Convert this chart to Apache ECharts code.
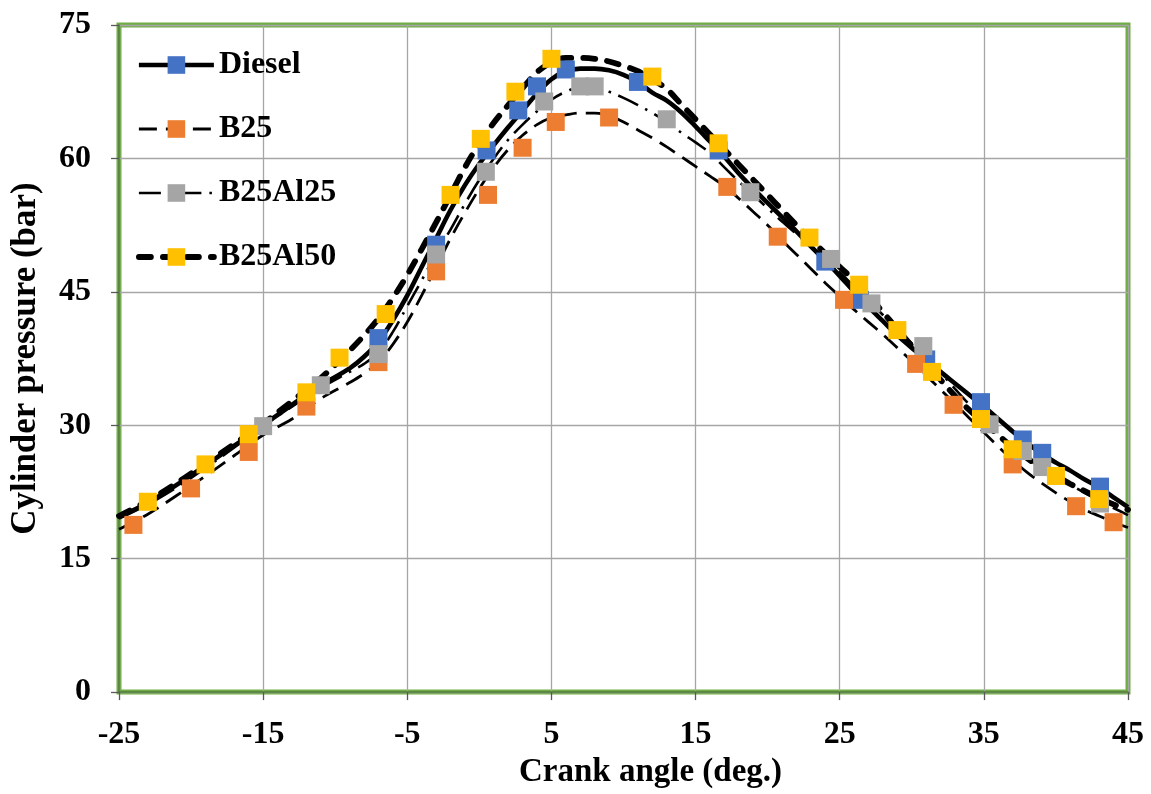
<!DOCTYPE html>
<html>
<head>
<meta charset="utf-8">
<script src="https://cdn.jsdelivr.net/npm/echarts@6/dist/echarts.min.js"></script>
<style>
  html, body { margin: 0; padding: 0; background: #ffffff; }
  #chart { width: 1151px; height: 794px; }
</style>
</head>
<body>
<div id="chart"></div>
<script>
// Crank angle (deg.) at which the smoothed pressure traces are sampled
const crankAngle = [
  -25, -23, -21, -19, -17, -15, -13, -11, -9,
  -8, -7, -6, -5, -4, -3, -2, -1, 0, 1, 2, 3, 4, 5, 6, 7, 8, 9, 10,
  11, 12, 13, 14, 15, 16, 17, 18, 19, 20, 21, 22, 23, 24, 25, 26, 27, 28,
  29, 30, 31, 32, 33, 34, 35, 36, 37, 38, 39, 40, 41, 42, 43, 44, 45
];

// Cylinder pressure traces (bar)
const dieselTrace = [
  19.7, 21.3, 23.3, 25.5, 27.7, 30.0, 32.3, 34.5, 36.4,
  37.7, 39.4, 41.8, 44.6, 47.8, 51.0, 54.2, 57.0, 59.4, 61.5, 63.5, 65.4, 67.3, 68.9, 69.8, 70.1, 70.1, 69.9, 69.4,
  68.6, 67.4, 66.5, 65.2, 63.6, 61.9, 60.2, 58.3, 56.6, 55.0, 53.4, 51.8, 50.1, 48.5, 46.8, 45.0, 43.3, 41.7,
  40.1, 38.7, 37.4, 36.0, 34.7, 33.4, 32.1, 30.7, 29.3, 28.0, 26.8, 25.8, 24.9, 23.9, 23.0, 21.9, 20.8
];
const b25Trace = [
  18.3, 20.0, 22.1, 24.3, 26.6, 28.9, 30.7, 33.0, 34.8,
  35.8, 37.1, 39.1, 41.6, 44.6, 47.8, 51.0, 53.9, 56.6, 59.0, 61.0, 62.6, 63.8, 64.6, 64.9, 65.1, 65.1, 64.8, 64.1,
  63.2, 62.3, 61.3, 60.2, 59.1, 58.0, 56.9, 55.5, 54.0, 52.5, 50.8, 49.2, 47.6, 46.0, 44.5, 43.0, 41.6, 40.2,
  38.7, 37.2, 35.6, 34.0, 32.4, 30.8, 29.2, 27.6, 26.1, 24.7, 23.5, 22.4, 21.4, 20.5, 19.8, 19.1, 18.5
];
const b25al25Trace = [
  19.5, 21.1, 23.0, 25.2, 27.5, 29.9, 32.1, 34.2, 36.0,
  36.9, 38.2, 40.5, 43.4, 46.3, 49.3, 52.0, 54.9, 57.6, 60.0, 62.1, 63.8, 65.3, 66.6, 67.5, 68.0, 68.0, 67.5, 66.8,
  66.0, 65.1, 64.1, 62.9, 61.8, 60.6, 59.0, 57.4, 55.9, 54.4, 52.9, 51.5, 50.1, 48.7, 47.2, 45.6, 44.0, 42.4,
  40.8, 39.2, 37.6, 35.9, 34.1, 32.3, 30.6, 29.0, 27.6, 26.3, 25.2, 24.2, 23.3, 22.4, 21.5, 20.7, 19.9
];
const b25al50Trace = [
  19.8, 21.5, 23.5, 25.7, 27.9, 30.2, 32.7, 35.3, 38.4,
  40.1, 42.0, 44.3, 46.9, 49.8, 52.8, 55.9, 59.0, 61.7, 64.0, 66.0, 67.9, 69.7, 70.8, 71.3, 71.3, 71.2, 70.9, 70.4,
  69.8, 68.9, 67.8, 66.1, 64.4, 62.7, 61.0, 59.3, 57.6, 55.9, 54.2, 52.5, 50.9, 49.3, 47.8, 46.3, 44.6, 42.7,
  40.8, 38.9, 37.0, 35.1, 33.3, 31.7, 30.3, 28.9, 27.5, 26.3, 25.2, 24.3, 23.4, 22.6, 21.8, 21.1, 20.5
];

// Measured points [crank angle, pressure]
const dieselPoints = [
  [-7.0, 39.8], [-3.0, 50.3], [0.5, 60.9], [2.7, 65.4], [4.0, 68.1], [6.0, 70.0],
  [11.0, 68.6], [16.6, 60.9], [24.0, 48.4], [26.4, 44.1], [31.0, 37.4], [34.8, 32.6],
  [37.7, 28.4], [39.05, 26.9], [43.06, 23.1]
];
const b25Points = [
  [-24.0, 18.8], [-20.0, 22.9], [-16.0, 27.0], [-12.0, 32.1], [-7.0, 37.1], [-3.0, 47.3],
  [0.6, 55.9], [3.0, 61.2], [5.3, 64.1], [9.0, 64.6], [17.2, 56.8], [20.7, 51.2],
  [25.3, 44.1], [30.3, 36.9], [32.9, 32.3], [37.0, 25.6], [41.4, 20.9], [44.0, 19.1]
];
const b25al25Points = [
  [-15.0, 29.9], [-11.0, 34.5], [-7.0, 38.0], [-3.0, 49.2], [0.45, 58.5], [4.5, 66.4],
  [7.0, 68.1], [8.0, 68.1], [13.0, 64.4], [18.8, 56.2], [24.4, 48.7], [27.2, 43.7],
  [30.8, 38.9], [35.4, 30.1], [37.7, 27.1], [39.05, 25.3], [43.06, 21.2]
];
const b25al50Points = [
  [-23.0, 21.4], [-19.0, 25.6], [-16.0, 29.0], [-12.0, 33.7], [-9.7, 37.6], [-6.5, 42.5],
  [-2.0, 55.9], [0.1, 62.2], [2.5, 67.5], [5.0, 71.2], [12.0, 69.2], [16.6, 61.7],
  [22.9, 51.1], [26.35, 45.8], [29.0, 40.7], [31.4, 36.0], [34.8, 30.7], [37.0, 27.3],
  [40.0, 24.3], [43.0, 21.7]
];

const seriesNames = ['Diesel', 'B25', 'B25Al25', 'B25Al50'];

// Axis ranges and tick steps
const angleRange = [-25, 45];
const angleStep = 10;
const pressureRange = [0, 75];
const pressureStep = 15;

const FONT = '"Liberation Serif", "Times New Roman", serif';
const traces = [dieselTrace, b25Trace, b25al25Trace, b25al50Trace];
const points = [dieselPoints, b25Points, b25al25Points, b25al50Points];
const markerColors = ['#4472C4', '#ED7D31', '#A5A5A5', '#FFC000'];
const lineStyles = [
  { width: 4.6, type: 'solid', cap: 'butt' },
  { width: 2.8, type: [18, 9], cap: 'butt' },
  { width: 2.6, type: [22, 8, 2.5, 8], cap: 'butt' },
  { width: 5.8, type: [12, 12], cap: 'round' }
];

function strokeOf(i) {
  return {
    color: '#000000',
    width: lineStyles[i].width,
    type: lineStyles[i].type,
    cap: lineStyles[i].cap
  };
}

const series = [];
seriesNames.forEach(function (name, i) {
  series.push({
    type: 'line',
    name: name,
    data: crankAngle.map(function (a, k) { return [a, traces[i][k]]; }),
    smooth: 0.35,
    showSymbol: false,
    symbol: 'rect',
    symbolSize: 18,
    itemStyle: { color: markerColors[i] },
    lineStyle: strokeOf(i),
    emphasis: { disabled: true },
    silent: true,
    z: 2
  });
});
seriesNames.forEach(function (name, i) {
  series.push({
    type: 'scatter',
    name: name,
    data: points[i],
    symbol: 'rect',
    symbolSize: 18,
    itemStyle: { color: markerColors[i], opacity: 1 },
    emphasis: { disabled: true },
    silent: true,
    z: 3
  });
});

const chart = echarts.init(document.getElementById('chart'), null, { renderer: 'canvas' });
chart.setOption({
  animation: false,
  backgroundColor: '#ffffff',
  grid: {
    left: 119, top: 25, width: 1009, height: 671,
    show: true,
    borderColor: '#70AD47',
    borderWidth: 5,
    backgroundColor: 'transparent'
  },
  legend: {
    orient: 'vertical',
    left: 136,
    top: 49,
    padding: 0,
    itemWidth: 75,
    itemHeight: 22,
    itemGap: 32,
    selectedMode: false,
    data: seriesNames.map(function (name, i) {
      return {
        name: name,
        itemStyle: { color: markerColors[i], opacity: 1 },
        lineStyle: strokeOf(i)
      };
    }),
    textStyle: { fontFamily: FONT, fontWeight: 'bold', fontSize: 32, color: '#000000' }
  },
  xAxis: {
    type: 'value',
    min: angleRange[0],
    max: angleRange[1],
    interval: angleStep,
    name: 'Crank angle (deg.)',
    nameLocation: 'middle',
    nameGap: 63,
    nameTextStyle: { fontFamily: FONT, fontWeight: 'bold', fontSize: 33, color: '#000000', padding: [0, 0, 0, 54] },
    axisLine: { show: true, onZero: false, lineStyle: { color: '#4e7d36', width: 1.5 } },
    axisTick: { show: true, length: 8, inside: false, lineStyle: { color: '#595959', width: 1.3 } },
    axisLabel: { margin: 27, fontFamily: FONT, fontWeight: 'bold', fontSize: 32, color: '#000000' },
    splitLine: { show: true, lineStyle: { color: '#A6A6A6', width: 1.3 } }
  },
  yAxis: {
    type: 'value',
    min: pressureRange[0],
    max: pressureRange[1],
    interval: pressureStep,
    name: 'Cylinder pressure (bar)',
    nameLocation: 'middle',
    nameGap: 76,
    nameTextStyle: { fontFamily: FONT, fontWeight: 'bold', fontSize: 35, color: '#000000' },
    axisLine: { show: true, onZero: false, lineStyle: { color: '#4e7d36', width: 1.5 } },
    axisTick: { show: true, length: 8, inside: false, lineStyle: { color: '#595959', width: 1.3 } },
    axisLabel: { margin: 28, fontFamily: FONT, fontWeight: 'bold', fontSize: 32, color: '#000000' },
    splitLine: { show: true, lineStyle: { color: '#A6A6A6', width: 1.3 } }
  },
  series: series
});
</script>
</body>
</html>
